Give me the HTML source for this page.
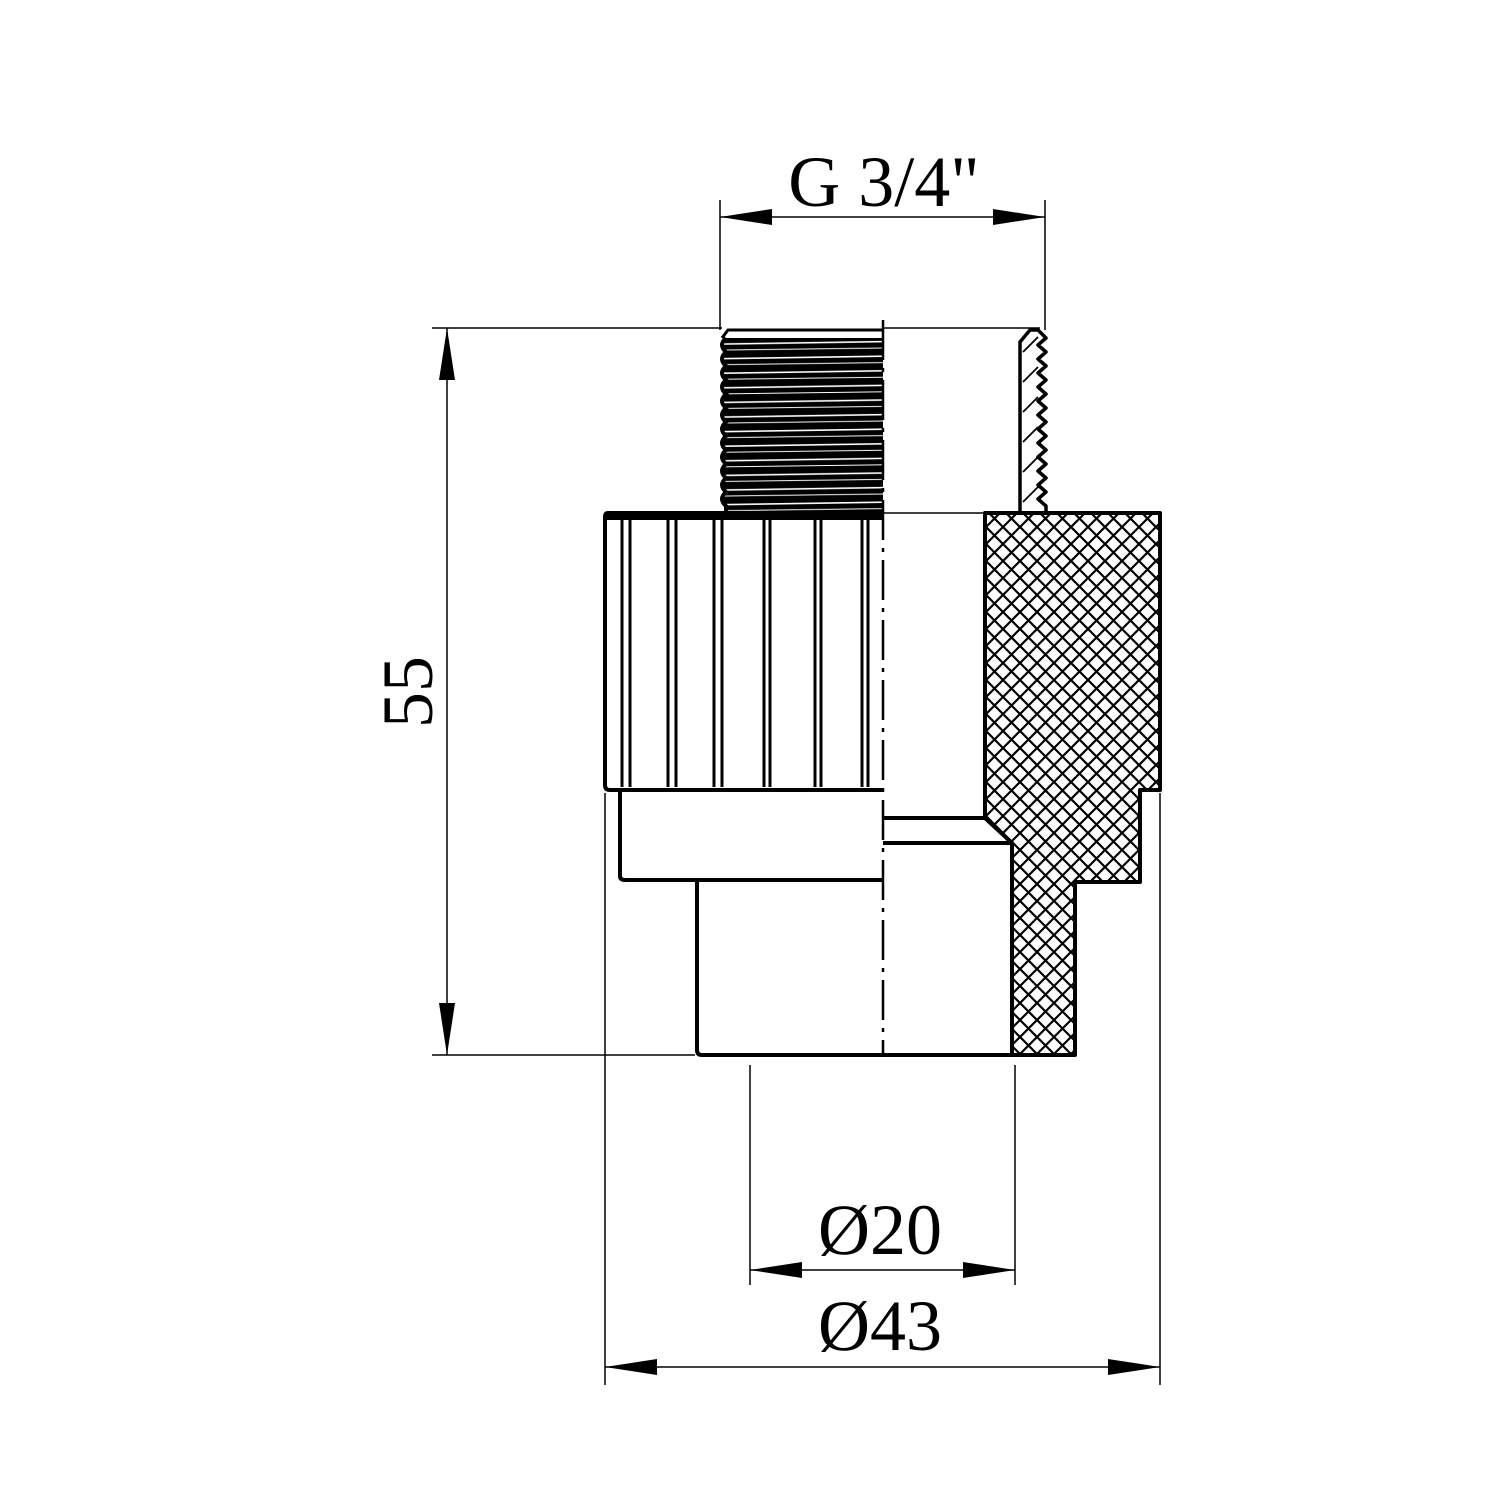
<!DOCTYPE html>
<html><head><style>html,body{margin:0;padding:0;background:#fff}svg{display:block}</style></head>
<body>
<svg width="1500" height="1500" viewBox="0 0 1500 1500" xmlns="http://www.w3.org/2000/svg">
<defs>
<pattern id="hx" width="17" height="17" patternUnits="userSpaceOnUse">
<rect width="17" height="17" fill="#fff"/>
<path d="M0 0L17 17M17 0L0 17" stroke="#000" stroke-width="2.2"/>
</pattern>
<pattern id="th" width="200" height="14.6" patternUnits="userSpaceOnUse" x="724" y="338">
<rect width="200" height="14.6" fill="#000"/>
<path d="M0 6L200 3" stroke="#fff" stroke-width="1.6"/>
<path d="M0 12L200 9.5" stroke="#fff" stroke-width="1"/>
</pattern>
</defs>
<g fill="none" stroke="#000">
<g stroke-width="1.5">
<line x1="720" y1="200" x2="720" y2="330"/>
<line x1="1045" y1="200" x2="1045" y2="330"/>
<line x1="720" y1="217" x2="1045" y2="217"/>
<line x1="432" y1="328" x2="722" y2="328"/>
<line x1="883" y1="328" x2="1040" y2="328"/>
<line x1="432" y1="1055" x2="695" y2="1055"/>
<line x1="447" y1="328" x2="447" y2="1055"/>
<line x1="750" y1="1065" x2="750" y2="1285"/>
<line x1="1015" y1="1065" x2="1015" y2="1285"/>
<line x1="750" y1="1270" x2="1015" y2="1270"/>
<line x1="605" y1="793" x2="605" y2="1385"/>
<line x1="1160" y1="793" x2="1160" y2="1385"/>
<line x1="605" y1="1367" x2="1160" y2="1367"/>
</g>
</g>
<g fill="#000">
<polygon points="720,217 772,209 772,225"/>
<polygon points="1045,217 993,209 993,225"/>
<polygon points="447,328 439,380 455,380"/>
<polygon points="447,1055 439,1003 455,1003"/>
<polygon points="750,1270 802,1262 802,1278"/>
<polygon points="1015,1270 963,1262 963,1278"/>
<polygon points="605,1367 657,1359 657,1375"/>
<polygon points="1160,1367 1108,1359 1108,1375"/>
</g>
<g font-family="'Liberation Serif',serif" font-size="72" fill="#000" text-anchor="middle">
<text x="884" y="206">G 3/4"</text>
<text x="880" y="1254">Ø20</text>
<text x="880" y="1350">Ø43</text>
<text transform="translate(432,692) rotate(-90)">55</text>
</g>
<rect x="724" y="338" width="159" height="175" fill="url(#th)"/>
<path d="M883 330L728 330L722 338" fill="none" stroke="#000" stroke-width="3"/>
<path d="M726 338 q-8 7 0 14 q-8 7 0 14 q-8 7 0 14 q-8 7 0 14 q-8 7 0 14 q-8 7 0 14 q-8 7 0 14 q-8 7 0 14 q-8 7 0 14 q-8 7 0 14 q-8 7 0 14 q-8 7 0 14 l0 7" fill="none" stroke="#000" stroke-width="4"/>
<path d="M1020 513 L1020 342 L1030 330 L1038 330 L1046 338 l-8 7 l8 7 l-8 7 l8 7 l-8 7 l8 7 l-8 7 l8 7 l-8 7 l8 7 l-8 7 l8 7 l-8 7 l8 7 l-8 7 l8 7 l-8 7 l8 7 l-8 7 l8 7 l-8 7 l8 7 l-8 7 l8 7 l0 7" fill="#fff" stroke="#000" stroke-width="3.5" stroke-linejoin="round"/>
<g stroke="#000" stroke-width="1.8"><line x1="1023" y1="352" x2="1038" y2="337"/><line x1="1023" y1="382" x2="1038" y2="367"/><line x1="1023" y1="412" x2="1038" y2="397"/><line x1="1023" y1="442" x2="1038" y2="427"/><line x1="1023" y1="472" x2="1038" y2="457"/><line x1="1023" y1="502" x2="1038" y2="487"/></g>
<line x1="883" y1="513" x2="985" y2="513" stroke="#000" stroke-width="1.5"/>
<path d="M883 513 L608 513 Q605 513 605 517 L605 785 Q605 790 610 790 L883 790" fill="none" stroke="#000" stroke-width="4"/>
<line x1="605" y1="517" x2="883" y2="517" stroke="#000" stroke-width="6"/>
<g stroke="#000" stroke-width="3">
<line x1="622" y1="517" x2="622" y2="787"/><line x1="630" y1="517" x2="630" y2="787"/>
<line x1="668" y1="517" x2="668" y2="787"/><line x1="676" y1="517" x2="676" y2="787"/>
<line x1="714" y1="517" x2="714" y2="787"/><line x1="722" y1="517" x2="722" y2="787"/>
<line x1="764" y1="517" x2="764" y2="787"/><line x1="770" y1="517" x2="770" y2="787"/>
<line x1="815" y1="517" x2="815" y2="787"/><line x1="821" y1="517" x2="821" y2="787"/>
<line x1="862" y1="517" x2="862" y2="787"/><line x1="868" y1="517" x2="868" y2="787"/>
</g>
<path d="M620 790 L620 876 Q620 880 625 880 L883 880" fill="none" stroke="#000" stroke-width="4"/>
<path d="M697 882 L697 1050 Q697 1055 702 1055 L1012 1055" fill="none" stroke="#000" stroke-width="4"/>
<line x1="883" y1="818" x2="985" y2="818" stroke="#000" stroke-width="4"/>
<line x1="883" y1="843" x2="1012" y2="843" stroke="#000" stroke-width="4"/>
<path d="M985 513 L1160 513 L1160 790 L1140 790 L1140 882 L1075 882 L1075 1055 L1012 1055 L1012 843 L985 818 Z" fill="url(#hx)" stroke="#000" stroke-width="4" stroke-linejoin="round"/>
<line x1="883" y1="320" x2="883" y2="1055" stroke="#000" stroke-width="2.5" stroke-dasharray="40,8,4,8"/>
</svg>
</body></html>
